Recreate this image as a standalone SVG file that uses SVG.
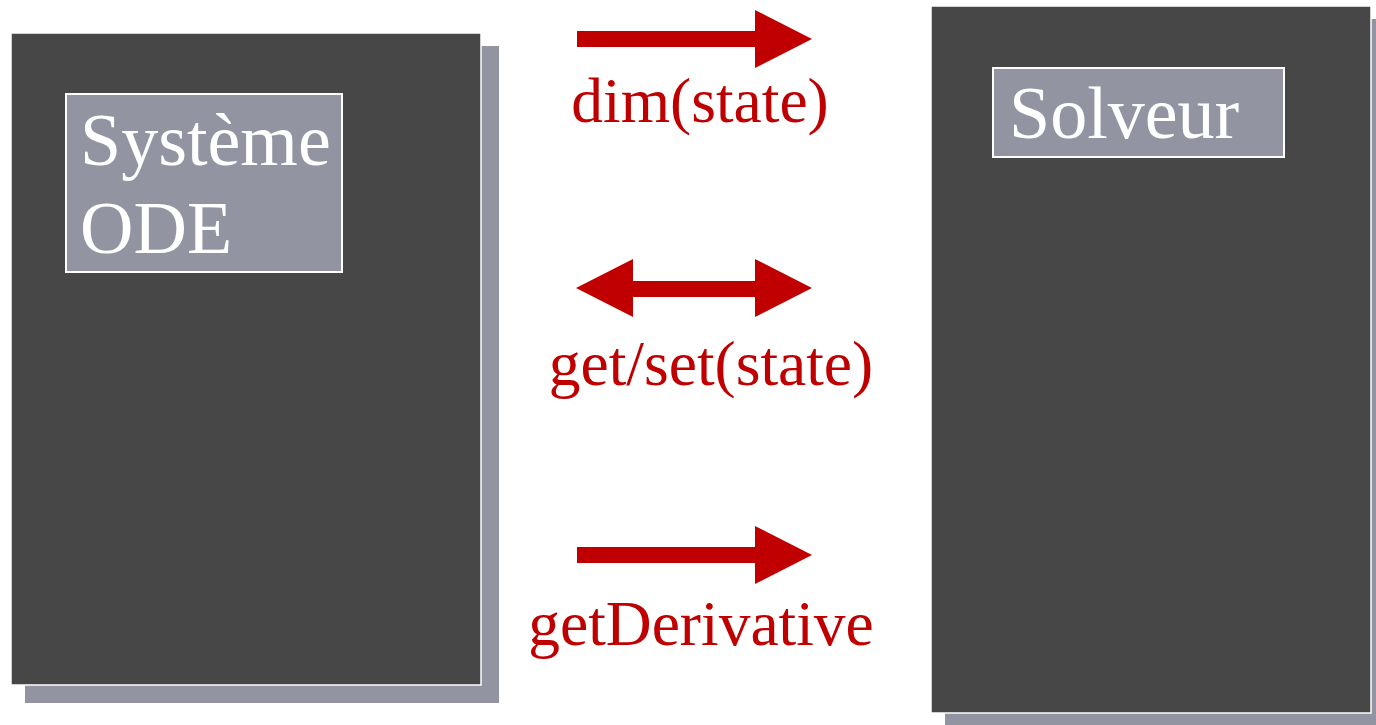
<svg xmlns="http://www.w3.org/2000/svg" width="1376" height="725" viewBox="0 0 1376 725">
<style>
.shadow{fill:#9295a1}
.panel{fill:#474747;stroke:#fff;stroke-width:1.5}
.label{fill:#9295a1;stroke:#fff;stroke-width:2}
.ltxt{font-family:"Liberation Serif",serif;font-size:74px;fill:#fff}
.rtxt{font-family:"Liberation Serif",serif;font-size:63.5px;fill:#c00000;text-anchor:middle}
.arrow{fill:#c00000}
</style>
<rect width="1376" height="725" fill="#fff"/>
<g id="systeme">
<rect class="shadow" x="25" y="46" width="474" height="657"/>
<rect class="panel" x="11" y="33" width="470" height="652"/>
<rect class="label" x="66" y="94" width="276" height="178"/>
<text class="ltxt" x="80" y="165">Système</text>
<text class="ltxt" x="80" y="253">ODE</text>
</g>
<g id="solveur">
<rect class="shadow" x="945" y="19" width="445" height="710"/>
<rect class="panel" x="931" y="6" width="440" height="707"/>
<rect class="label" x="993" y="68" width="291" height="89"/>
<text class="ltxt" x="1009" y="138">Solveur</text>
</g>
<g id="connectors">
<polygon class="arrow" points="577,31 755,31 755,10 812,39 755,68 755,47 577,47"/>
<polygon class="arrow" points="576,288 633,259 633,281 755,281 755,259 812,288 755,317 755,297 633,297 633,317"/>
<polygon class="arrow" points="577,547 755,547 755,526 812,555 755,584 755,563 577,563"/>
<text class="rtxt" x="700" y="122">dim(state)</text>
<text class="rtxt" x="711" y="385">get/set(state)</text>
<text class="rtxt" x="701" y="645">getDerivative</text>
</g>
</svg>
